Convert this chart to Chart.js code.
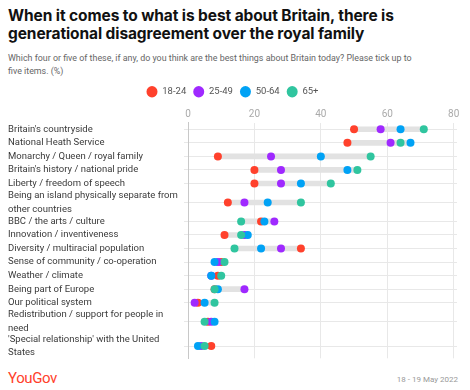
<!DOCTYPE html>
<html>
<head>
<meta charset="utf-8">
<script src="https://cdn.jsdelivr.net/npm/chart.js@4/dist/chart.umd.min.js"></script>
<style>
  body { margin: 0; width: 470px; height: 390px; background: #fff; position: relative; overflow: hidden; font-family: Roboto, sans-serif; }
  #title { position: absolute; left: 8px; top: 7px; font: 700 15.5px Inter, sans-serif; line-height: 18px; color: #111; letter-spacing: -0.1px; }
  #subtitle { position: absolute; left: 8px; top: 52px; font: 8.9px Roboto, sans-serif; line-height: 13px; color: #666; }
  #wrap { position: absolute; left: 0; top: 80px; width: 470px; height: 288px; }
  #logo { position: absolute; left: 8px; top: 369px; font: 15px Roboto, sans-serif; color: #ff412c; letter-spacing: -0.4px; }
  #date { position: absolute; right: 12px; top: 375px; font: 8px Roboto, sans-serif; color: #999; }
</style>
</head>
<body>
<div id="title">When it comes to what is best about Britain, there is<br>generational disagreement over the royal family</div>
<div id="subtitle">Which four or five of these, if any, do you think are the best things about Britain today? Please tick up to<br>five items. (%)</div>
<div id="wrap"><canvas id="chart"></canvas></div>
<div id="logo">YouGov</div>
<div id="date">18 - 19 May 2022</div>
<script>
// categories (two-line labels as arrays)
const categories = [
    "Britain's countryside",
    'National Heath Service',
    'Monarchy / Queen / royal family',
    "Britain's history / national pride",
    'Liberty / freedom of speech',
    ['Being an island physically separate from', 'other countries'],
    'BBC / the arts / culture',
    'Innovation / inventiveness',
    'Diversity / multiracial population',
    'Sense of community / co-operation',
    'Weather / climate',
    'Being part of Europe',
    'Our political system',
    ['Redistribution / support for people in', 'need'],
    ["'Special relationship' with the United", 'States']
];

const ageGroups = ['18-24', '25-49', '50-64', '65+'];
const age18to24 = [50, 48, 9, 20, 20, 12, 22, 11, 34, 10, 9, 8, 3, 6, 7];
const age25to49 = [58, 61, 25, 28, 28, 17, 26, 17, 28, 9, 7, 17, 2, 7, 4];
const age50to64 = [64, 67, 40, 48, 34, 24, 23, 18, 22, 8, 7, 9, 5, 8, 3];
const age65plus = [71, 64, 55, 51, 43, 34, 16, 16, 14, 11, 10, 8, 8, 5, 5];
const xTicks = [0, 20, 40, 60, 80];

const colors = ['#ff412c', '#9f29ff', '#00a2f5', '#30c59f'];
const series = [age18to24, age25to49, age50to64, age65plus];

// row positions: two-line labels get a taller row
const rowUnits = categories.map(c => Array.isArray(c) ? 1.8 : 1);
const rowCenters = [];
let acc = 0;
rowUnits.forEach(u => { rowCenters.push(acc + u / 2); acc += u; });
const totalUnits = acc;

const datasets = series.map((vals, s) => ({
    type: 'scatter',
    label: ageGroups[s],
    data: vals.map((v, i) => ({ x: v, y: rowCenters[i] })),
    backgroundColor: colors[s],
    borderWidth: 0,
    pointRadius: 4,
    pointHoverRadius: 4,
    pointStyle: 'circle',
    order: 4 - s
}));

// grey range bar behind the dots
datasets.push({
    type: 'bar',
    label: 'range',
    indexAxis: 'y',
    data: categories.map((c, i) => {
        const vals = series.map(arr => arr[i]);
        return { x: [Math.min(...vals), Math.max(...vals)], y: rowCenters[i] };
    }),
    backgroundColor: '#e2e2e2',
    barThickness: 5,
    order: 10
});

new Chart(document.getElementById('chart'), {
    type: 'scatter',
    data: { datasets: datasets },
    options: {
        responsive: true,
        maintainAspectRatio: false,
        animation: false,
        layout: { padding: { left: 8, right: 13, top: 0, bottom: 0 } },
        plugins: {
            tooltip: { enabled: false },
            legend: {
                position: 'top',
                labels: {
                    filter: item => item.text !== 'range',
                    sort: (a, b) => a.datasetIndex - b.datasetIndex,
                    usePointStyle: true,
                    pointStyleWidth: 11,
                    boxHeight: 8,
                    padding: 7,
                    color: '#555',
                    font: { family: 'Roboto', size: 9.5 }
                }
            }
        },
        scales: {
            x: {
                type: 'linear',
                position: 'top',
                min: 0,
                max: 81,
                afterBuildTicks: axis => { axis.ticks = xTicks.map(v => ({ value: v })); },
                grid: { color: '#e8e8e8', drawTicks: false },
                border: { display: false },
                ticks: { color: '#aaa', padding: 2, font: { family: 'Roboto', size: 10 } }
            },
            y: {
                type: 'linear',
                reverse: true,
                min: 0,
                max: totalUnits,
                offset: false,
                afterBuildTicks: axis => { axis.ticks = rowCenters.map(v => ({ value: v })); },
                afterFit: axis => { axis.width = 180; },
                grid: { color: '#e8e8e8', offset: false, tickLength: 4 },
                border: { color: '#c8c8c8' },
                ticks: {
                    autoSkip: false,
                    crossAlign: 'far',
                    color: '#3a3a3a',
                    font: { family: 'Roboto', size: 9.5, lineHeight: 1.41 },
                    callback: (value, index) => categories[index]
                }
            }
        }
    }
});
</script>
</body>
</html>
